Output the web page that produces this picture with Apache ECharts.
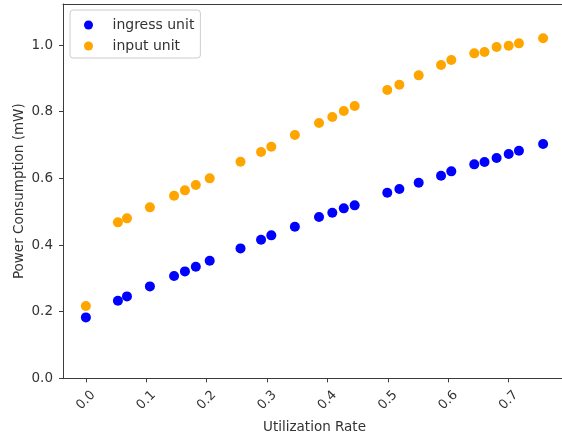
<!DOCTYPE html>
<html>
<head>
<meta charset="utf-8">
<script src="https://cdn.jsdelivr.net/npm/echarts@6/dist/echarts.min.js"></script>
<style>
  html, body { margin: 0; padding: 0; background: #fff; }
  #chart { width: 562px; height: 436px; }
</style>
</head>
<body>
<div id="chart"></div>
<script>
// Utilization rate samples (shared by both units)
const utilization = [0.0, 0.053, 0.068, 0.106, 0.146, 0.164, 0.182, 0.205, 0.256, 0.290, 0.307,
  0.346, 0.386, 0.408, 0.427, 0.445, 0.499, 0.519, 0.551, 0.588, 0.605, 0.643, 0.660, 0.680,
  0.700, 0.717, 0.757];

// Power consumption (mW)
const ingressPower = [0.183, 0.233, 0.246, 0.276, 0.307, 0.321, 0.335, 0.353, 0.390, 0.416, 0.429,
  0.455, 0.484, 0.497, 0.510, 0.519, 0.557, 0.568, 0.587, 0.608, 0.621, 0.642, 0.649, 0.661,
  0.673, 0.683, 0.703];
const inputPower = [0.217, 0.468, 0.480, 0.513, 0.548, 0.564, 0.580, 0.600, 0.650, 0.679, 0.695,
  0.730, 0.766, 0.784, 0.802, 0.817, 0.865, 0.881, 0.909, 0.940, 0.955, 0.975, 0.979, 0.994,
  0.998, 1.005, 1.020];

const seriesNames = ['ingress unit', 'input unit'];
const xTicks = [0.0, 0.1, 0.2, 0.3, 0.4, 0.5, 0.6, 0.7];
const yTicks = [0.0, 0.2, 0.4, 0.6, 0.8, 1.0];

const font = 'DejaVu Sans';
const textColor = '#333333';
const axisColor = '#3c3c3c';
const xRange = [-0.0379, 0.7949];

const chart = echarts.init(document.getElementById('chart'), null, { renderer: 'canvas' });

chart.setOption({
  animation: false,
  backgroundColor: '#ffffff',
  grid: {
    left: 63, top: 4, width: 503, height: 374.4,
    outerBoundsMode: 'none',
    show: false
  },
  legend: {
    orient: 'vertical',
    left: 70, top: 10,
    data: seriesNames,
    icon: 'circle',
    itemWidth: 38, itemHeight: 9, itemGap: 5,
    padding: [7, 6, 4, 14],
    borderColor: '#cccccc', borderWidth: 1, borderRadius: 3,
    backgroundColor: '#ffffff',
    textStyle: { fontFamily: font, fontSize: 14, color: textColor, lineHeight: 16 }
  },
  xAxis: [
    {
      type: 'value',
      min: xRange[0], max: xRange[1],
      name: 'Utilization Rate',
      nameLocation: 'middle', nameGap: 42, nameMoveOverlap: false,
      nameTextStyle: { fontFamily: font, fontSize: 13.5, color: textColor },
      splitLine: { show: false },
      axisLine: { onZero: false, lineStyle: { color: axisColor, width: 1 } },
      axisTick: { show: true, length: 4, customValues: xTicks, lineStyle: { color: axisColor } },
      axisLabel: {
        customValues: xTicks,
        rotate: 45, align: 'center', verticalAlign: 'middle', margin: 22,
        fontFamily: font, fontSize: 13, color: textColor,
        formatter: v => v.toFixed(1)
      }
    },
    {
      // top frame edge
      type: 'value', position: 'top',
      min: xRange[0], max: xRange[1],
      splitLine: { show: false },
      axisLine: { show: true, onZero: false, lineStyle: { color: axisColor, width: 1 } },
      axisTick: { show: false },
      axisLabel: { show: false }
    }
  ],
  yAxis: {
    type: 'value',
    min: 0, max: 1.123,
    name: 'Power Consumption (mW)',
    nameLocation: 'middle', nameGap: 37, nameMoveOverlap: false,
    nameTextStyle: { fontFamily: font, fontSize: 13.5, color: textColor },
    splitLine: { show: false },
    axisLine: { show: true, onZero: false, lineStyle: { color: axisColor, width: 1 } },
    axisTick: { show: true, length: 4, customValues: yTicks, lineStyle: { color: axisColor } },
    axisLabel: {
      customValues: yTicks, margin: 10,
      fontFamily: font, fontSize: 13.5, color: textColor,
      formatter: v => v.toFixed(1)
    }
  },
  series: [
    {
      name: seriesNames[0], type: 'scatter', symbol: 'circle', symbolSize: 10,
      itemStyle: { color: '#0000ff', opacity: 1 },
      data: utilization.map((x, i) => [x, ingressPower[i]])
    },
    {
      name: seriesNames[1], type: 'scatter', symbol: 'circle', symbolSize: 10,
      itemStyle: { color: '#ffa500', opacity: 1 },
      data: utilization.map((x, i) => [x, inputPower[i]])
    }
  ]
});
</script>
</body>
</html>
